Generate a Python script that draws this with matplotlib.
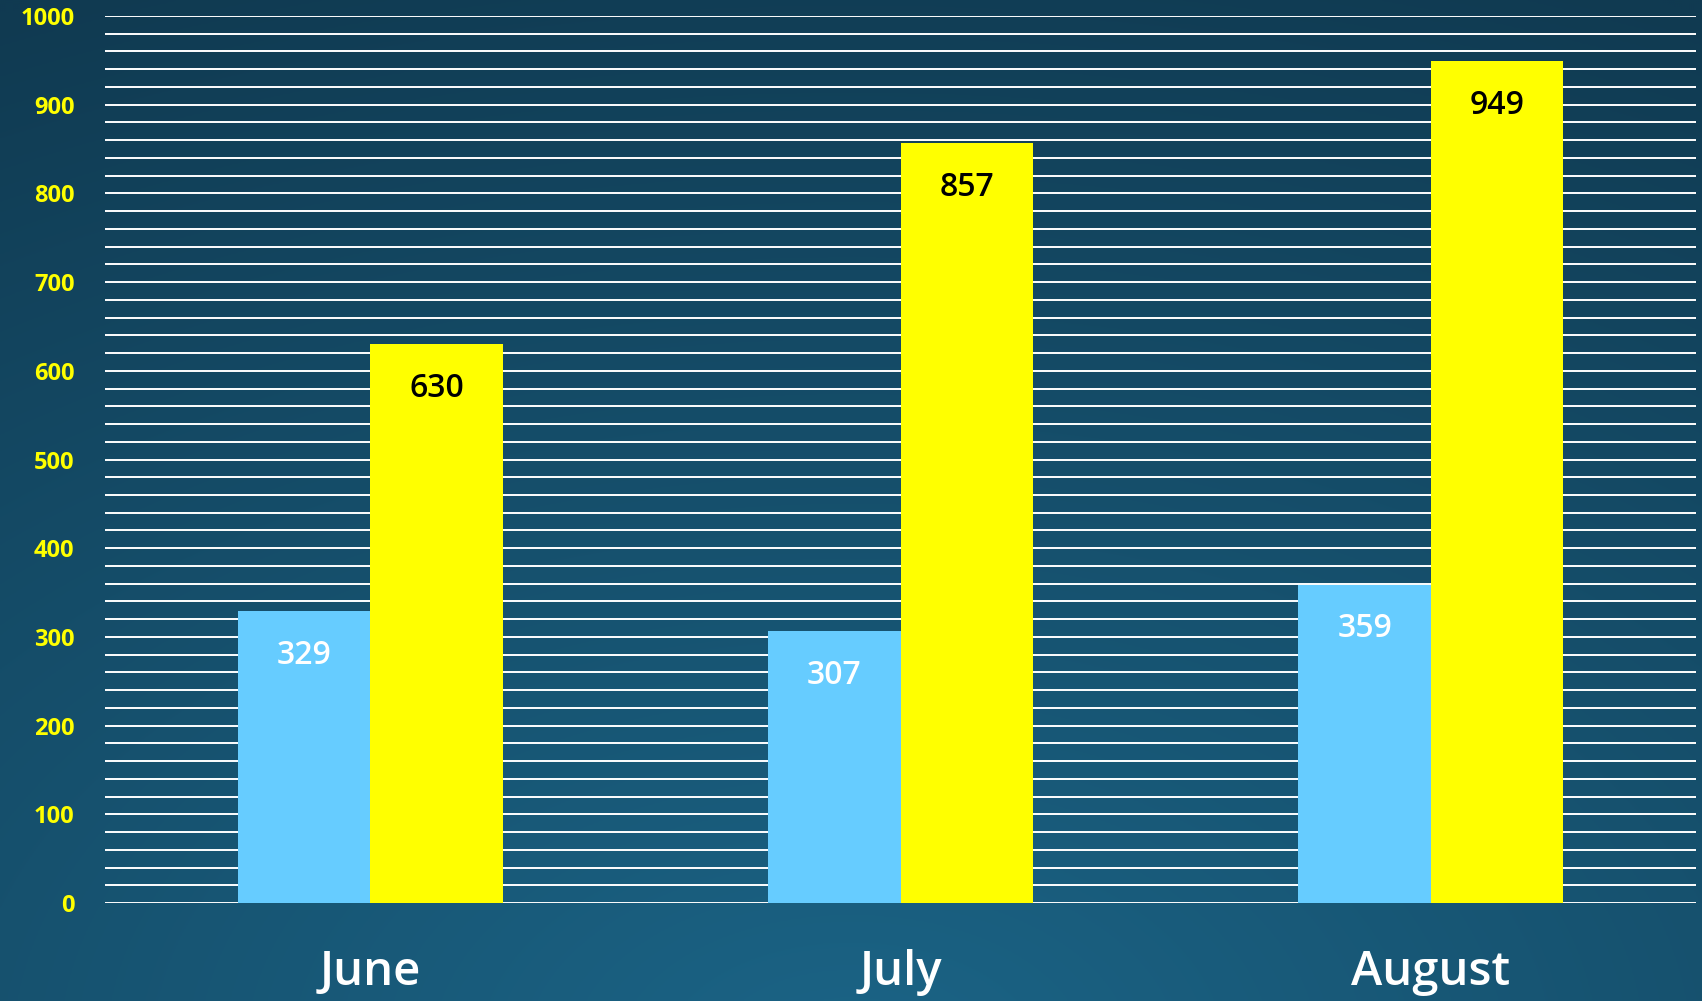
import numpy as np
import matplotlib
matplotlib.use("Agg")
import matplotlib.pyplot as plt

months = ["June", "July", "August"]
series_a = [329, 307, 359]
series_b = [630, 857, 949]
y_ticks = list(range(0, 1001, 100))

plt.rcParams['font.family'] = ['Open Sans', 'DejaVu Sans']

fig = plt.figure(figsize=(17.02, 10.01), dpi=100)

# background gradient
bg = fig.add_axes([0, 0, 1, 1])
h, w = 500, 850
yy, xx = np.mgrid[0:h, 0:w]
d = np.sqrt(((xx - w * 0.5) / w) ** 2 + ((yy - h * 1.05) / h) ** 2)
d = np.clip(d / 1.15, 0, 1)
c_in = np.array([0x1b, 0x64, 0x86]) / 255
c_out = np.array([0x10, 0x3a, 0x51]) / 255
img = c_in[None, None, :] * (1 - d[..., None]) + c_out[None, None, :] * d[..., None]
bg.imshow(img, aspect="auto", extent=[0, 1, 0, 1])
bg.axis("off")

ax = fig.add_axes([0.0617, 0.0979, 0.9348, 0.8861])
ax.patch.set_alpha(0)
x = np.arange(len(months))
bw = 0.25
for v in range(0, 1001, 20):
    ax.axhline(v, color="white", lw=1.4, zorder=1)
ax.bar(x - bw / 2, series_a, bw, color="#66ccff", zorder=2)
ax.bar(x + bw / 2, series_b, bw, color="#ffff00", zorder=2)
for i in range(len(months)):
    ax.text(x[i] - bw / 2, series_a[i] - 50, str(series_a[i]), ha="center", va="center",
            color="white", fontsize=23, fontweight="semibold", zorder=3)
    ax.text(x[i] + bw / 2, series_b[i] - 50, str(series_b[i]), ha="center", va="center",
            color="black", fontsize=23, fontweight="semibold", zorder=3)

ax.set_xlim(-0.5, 2.5)
ax.set_ylim(0, 1000)
ax.set_yticks(y_ticks)
ax.set_yticklabels([str(t) for t in y_ticks], color="#ffff00", fontsize=17, fontweight="bold")
ax.set_xticks(x)
ax.set_xticklabels(months, color="white", fontsize=34, fontweight="semibold")
ax.tick_params(axis="y", length=0, pad=22)
ax.tick_params(axis="x", length=0, pad=33)
for s in ax.spines.values():
    s.set_visible(False)

fig.savefig("out.png", dpi=100)
